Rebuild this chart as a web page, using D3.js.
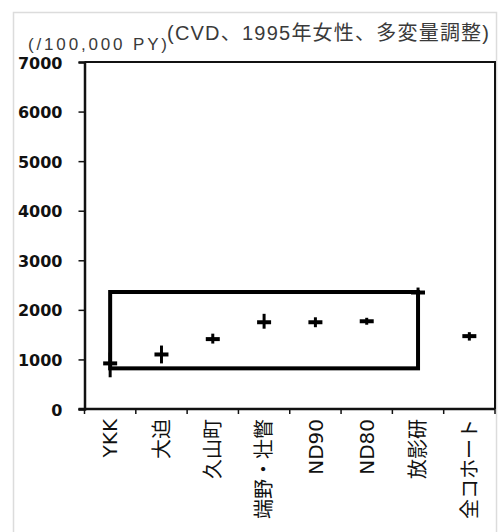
<!DOCTYPE html>
<html>
<head>
<meta charset="utf-8">
<script src="https://cdn.jsdelivr.net/npm/d3@7"></script>
<style>
  html, body { margin: 0; padding: 0; background: #fff; }
  svg { display: block; }
</style>
</head>
<body>
<svg id="chart" width="500" height="532"></svg>
<script>
// ---- data ----
const categories = ["YKK", "大迫", "久山町", "端野・壮瞥", "ND90", "ND80", "放影研", "全コホート"];
const values = [920, 1100, 1410, 1750, 1750, 1770, 2350, 1470];
const lower  = [640, 920, 1320, 1620, 1650, 1700, 2250, 1380];
const upper  = [1140, 1280, 1520, 1920, 1850, 1840, 2450, 1550];
const yTicks = [0, 1000, 2000, 3000, 4000, 5000, 6000, 7000];
const boxCategories = ["YKK", "放影研"];
const boxRange = [820, 2360];
const titleText = "(CVD、1995年女性、多変量調整)";
const unitText = "(/100,000 PY)";

// ---- layout ----
const svg = d3.select("#chart");
const mL = 84.5, mR = 495, mT = 62, mB = 409;

const x = d3.scaleBand().domain(categories).range([mL, mR]).padding(0);
const y = d3.scaleLinear().domain([0, 7000]).range([mB, mT]);
const cx = c => x(c) + x.bandwidth() / 2;

// outer chart border (light gray)
svg.append("rect")
  .attr("x", 13.5).attr("y", 12.5).attr("width", 483).attr("height", 540)
  .attr("fill", "none").attr("stroke", "#dcdcdc").attr("stroke-width", 1.5);

// plot frame (top and right)
svg.append("path")
  .attr("d", `M${mL},${mT}H${mR}V${mB}`)
  .attr("fill", "none").attr("stroke", "#111").attr("stroke-width", 2);

// titles
svg.append("text")
  .attr("x", 167).attr("y", 40)
  .attr("textLength", 322).attr("lengthAdjust", "spacing")
  .style("font-family", "'Liberation Sans', 'Noto Sans CJK JP', sans-serif")
  .style("font-size", "20px").style("font-weight", "normal").attr("fill", "#3a3a3a")
  .text(titleText);
svg.append("text")
  .attr("x", 28).attr("y", 50)
  .attr("textLength", 139).attr("lengthAdjust", "spacing")
  .style("font-family", "'Liberation Sans', 'Noto Sans CJK JP', sans-serif")
  .style("font-size", "17px").style("font-weight", "normal").attr("fill", "#3a3a3a")
  .text(unitText);

// y axis
const yAxis = d3.axisLeft(y).tickValues(yTicks).tickSize(6).tickPadding(16).tickFormat(d3.format("d"));
const gy = svg.append("g").attr("transform", `translate(${mL},0)`).call(yAxis);
gy.select(".domain").attr("stroke", "#111").attr("stroke-width", 2.5);
gy.selectAll(".tick line").attr("stroke", "#111").attr("stroke-width", 1.5);
gy.selectAll(".tick text")
  .attr("dy", "0.38em")
  .style("font-family", "'DejaVu Sans', sans-serif")
  .style("font-weight", "bold").style("font-size", "16px").attr("fill", "#111");

// x axis (ticks at band boundaries)
const gx = svg.append("g");
gx.append("line").attr("x1", mL - 6).attr("x2", mR).attr("y1", mB).attr("y2", mB)
  .attr("stroke", "#111").attr("stroke-width", 2.5);
const bounds = categories.map(c => x(c)).concat([x.range()[1]]);
gx.selectAll("line.tk").data(bounds).join("line").attr("class", "tk")
  .attr("x1", d => d).attr("x2", d => d).attr("y1", mB).attr("y2", mB + 5)
  .attr("stroke", "#111").attr("stroke-width", 1.5);
gx.selectAll("text").data(categories).join("text")
  .attr("transform", d => `translate(${cx(d)},${mB + 10}) rotate(-90)`)
  .attr("text-anchor", "end").attr("dy", "0.36em")
  .style("font-family", "'DejaVu Sans', 'Noto Sans CJK JP', sans-serif")
  .style("font-size", "20px").attr("fill", "#111")
  .text(d => d);

// annotation box
svg.append("rect")
  .attr("x", cx(boxCategories[0])).attr("y", y(boxRange[1]))
  .attr("width", cx(boxCategories[1]) - cx(boxCategories[0]))
  .attr("height", y(boxRange[0]) - y(boxRange[1]))
  .attr("fill", "none").attr("stroke", "#000").attr("stroke-width", 4);

// markers
const pts = categories.map((c, i) => ({ c, v: values[i], lo: lower[i], hi: upper[i] }));
const gm = svg.append("g");
gm.selectAll("line.h").data(pts).join("line").attr("class", "h")
  .attr("x1", d => cx(d.c) - 7).attr("x2", d => cx(d.c) + 7)
  .attr("y1", d => y(d.v)).attr("y2", d => y(d.v))
  .attr("stroke", "#000").attr("stroke-width", 4);
gm.selectAll("line.v").data(pts).join("line").attr("class", "v")
  .attr("x1", d => cx(d.c)).attr("x2", d => cx(d.c))
  .attr("y1", d => y(d.hi)).attr("y2", d => y(d.lo))
  .attr("stroke", "#000").attr("stroke-width", 3);
</script>
</body>
</html>
